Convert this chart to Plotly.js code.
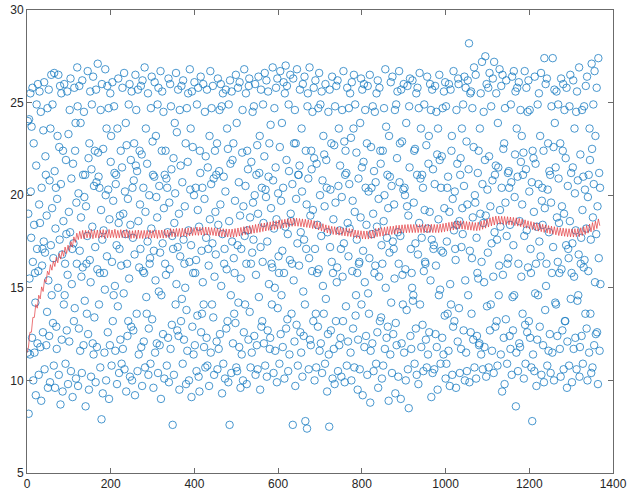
<!DOCTYPE html>
<html>
<head>
<meta charset="utf-8">
<script src="https://cdn.plot.ly/plotly-3.0.1.min.js"></script>
<style>html,body{margin:0;padding:0;background:#fff;}#chart{width:629px;height:495px;}</style>
</head>
<body>
<div id="chart"></div>
<script>
var obsA = [
11.5,24.0,19.0,8.2,24.1,15.5,11.4,25.5,20.2,17.7,
23.7,12.3,25.8,16.4,10.0,22.8,18.4,11.5,15.8,14.2,
9.2,21.6,24.9,17.1,12.0,26.0,15.9,10.3,19.5,25.6,
18.5,11.8,24.5,8.9,20.4,16.2,17.1,12.6,23.5,17.5,
26.1,10.6,16.9,22.1,21.1,11.9,18.9,13.7,24.7,9.6,
15.4,25.7,12.4,20.8,9.9,23.6,17.3,26.5,14.6,19.3,
24.9,13.1,16.6,10.8,26.6,21.3,9.6,18.2,20.4,12.9,
11.7,19.8,23.2,15.0,26.5,10.3,22.6,17.6,25.9,8.7,
20.6,25.5,12.2,16.8,9.4,22.4,18.6,14.1,26.0,14.6,
16.3,10.9,21.9,17.9,12.7,25.6,15.7,9.8,23.3,19.1,
12.1,24.6,18.0,26.3,10.5,20.9,15.2,17.1,9.1,21.7,
17.4,13.2,25.8,13.9,22.4,23.9,10.1,19.6,16.3,26.9,
24.8,9.7,20.1,12.8,25.9,17.0,11.6,23.9,18.8,15.6,
10.4,26.2,16.1,21.1,11.9,24.5,19.9,14.3,21.1,8.6,
19.4,16.3,13.6,17.8,26.7,12.5,22.0,9.5,22.8,16.5,
25.6,15.3,10.2,21.4,24.9,18.3,12.0,26.4,11.4,20.5,
13.4,22.4,17.2,9.9,25.7,20.7,11.8,16.0,27.1,22.3,
21.0,14.1,20.4,15.8,10.7,24.6,19.2,7.9,26.0,17.6,
9.3,22.5,18.1,15.8,11.5,14.9,26.8,20.0,10.0,23.6,
16.7,25.9,12.6,20.3,24.7,9.0,18.7,11.9,25.5,21.8,
23.2,10.8,16.4,26.1,13.2,19.7,14.6,24.8,21.2,15.1,
11.6,20.6,21.1,17.3,9.8,23.6,14.0,26.3,18.5,10.4,
17.1,18.9,12.2,22.4,16.2,10.9,21.5,25.8,11.7,19.0,
14.7,26.6,10.6,20.2,17.9,23.9,9.4,22.7,16.3,12.4,
19.8,13.2,24.9,15.5,26.0,10.2,18.4,21.9,12.9,25.6,
10.0,20.4,17.7,12.7,20.8,22.8,16.8,9.2,26.5,21.6,
24.6,13.6,21.3,10.5,25.7,18.6,11.4,16.1,22.4,19.5,
17.1,25.9,11.8,22.2,9.7,26.2,15.9,20.4,12.1,15.8,
26.9,10.7,19.1,23.6,14.5,13.6,21.7,17.5,25.5,10.3,
12.8,20.0,16.3,16.6,10.9,24.7,18.2,26.4,13.3,22.9,
21.1,9.6,17.0,21.0,26.1,11.5,15.4,23.2,19.9,12.0,
18.8,24.9,10.4,25.8,14.8,20.5,11.9,16.9,26.7,9.0,
14.6,22.4,25.6,17.4,12.5,24.5,19.3,10.1,21.1,16.3,
22.4,15.7,20.9,10.8,20.4,18.0,12.3,26.3,9.9,19.6,
16.0,26.0,11.7,24.8,21.4,13.0,17.8,7.6,17.1,22.0
];
var obsB = [
10.3,18.5,23.9,20.1,14.1,26.6,15.2,23.4,12.7,17.2,
25.7,12.4,19.0,9.5,24.6,16.7,21.6,13.2,25.9,14.4,
20.7,10.9,26.2,17.6,12.2,16.3,19.4,15.0,22.8,9.8,
13.8,24.7,11.6,21.8,25.5,18.1,10.0,16.4,26.8,20.3,
23.6,17.3,9.1,25.6,12.9,22.6,15.8,11.4,20.0,26.1,
11.9,15.8,20.4,16.5,10.5,24.9,13.5,19.2,25.8,10.2,
18.3,9.4,22.4,21.2,26.4,12.6,17.0,13.6,20.4,15.3,
26.0,14.1,11.8,19.8,24.5,10.7,22.1,17.7,12.3,25.7,
10.8,21.5,17.1,16.2,9.7,23.2,18.7,26.7,11.5,20.6,
24.7,14.1,17.4,25.9,13.4,20.9,10.3,15.6,22.4,19.1,
16.8,21.1,12.1,22.8,10.6,26.3,18.4,11.7,21.3,24.6,
12.5,19.5,26.0,15.1,24.8,9.3,17.9,25.5,10.9,21.0,
16.3,17.1,10.1,20.2,25.7,12.8,16.0,23.6,13.2,22.5,
9.9,24.9,18.6,7.6,26.2,21.7,14.6,10.4,25.6,17.5,
21.9,12.0,22.8,16.6,13.6,15.8,19.7,13.1,26.5,10.7,
23.9,10.5,17.3,25.8,14.2,20.7,11.8,26.1,18.9,9.6,
15.5,17.1,11.4,22.3,24.6,10.0,19.4,12.6,26.8,17.8,
14.1,20.5,25.5,16.3,9.8,22.4,18.1,21.4,12.2,25.9,
26.3,13.7,18.8,10.7,16.3,21.8,11.5,16.9,24.5,19.6,
17.6,24.8,12.4,20.0,26.0,10.3,15.7,21.1,11.9,22.7,
10.6,19.0,26.4,14.5,21.2,23.2,9.5,17.2,25.7,12.9,
20.4,13.2,16.4,24.9,18.5,12.0,22.1,26.6,10.8,20.3,
19.9,26.2,10.2,17.5,12.7,25.6,21.0,15.2,22.8,11.7,
12.3,23.8,19.3,16.3,14.1,16.1,26.9,20.8,10.4,18.2,
24.7,15.0,11.6,21.5,25.8,18.7,9.9,26.3,13.9,20.1,
16.7,15.8,10.9,22.6,26.7,12.5,19.7,14.6,23.9,17.0,
11.8,20.4,26.1,15.8,10.1,25.5,18.3,27.0,12.8,21.9,
25.9,13.3,17.9,10.5,24.9,21.3,11.4,16.5,26.5,19.0,
18.6,13.6,16.3,20.6,7.6,26.3,15.4,22.8,12.1,24.6,
9.7,22.8,19.8,13.0,26.8,17.4,10.8,21.1,21.1,16.2,
21.6,25.7,12.6,18.0,11.5,23.6,20.2,10.2,26.0,14.8,
12.4,17.6,26.4,14.1,7.8,22.4,17.1,19.5,7.4,24.8,
25.5,20.9,10.6,16.6,26.9,12.2,18.9,11.9,22.4,21.4,
15.9,24.5,19.2,13.2,25.8,22.0,10.0,17.1,26.2,13.6,
10.7,21.7,15.8,18.4,12.9,24.7,16.0,26.6,11.6,20.0
];
var obsC = [
24.9,12.0,17.8,25.6,10.4,20.8,15.1,23.2,13.6,22.2,
19.4,10.9,26.0,14.4,21.9,20.4,9.4,18.0,12.5,24.5,
11.4,7.5,25.7,17.2,20.3,12.7,22.8,16.4,26.4,10.1,
15.8,18.7,11.7,22.7,9.8,24.8,19.6,13.2,25.9,15.3,
16.1,26.2,10.5,20.5,23.6,11.9,18.1,21.6,12.3,17.1,
10.2,19.9,24.6,15.6,13.2,26.7,17.4,22.9,9.9,21.1,
22.4,14.0,21.2,10.8,25.8,18.5,12.1,16.7,24.7,20.6,
18.2,25.5,11.5,23.1,10.0,26.1,15.9,19.7,12.8,23.6,
26.5,10.7,19.1,24.9,13.5,14.6,22.3,17.6,15.8,9.5,
12.2,20.9,16.3,16.4,10.6,23.9,18.8,26.3,14.1,21.5,
25.7,9.2,17.0,21.8,26.0,11.8,15.3,24.6,20.4,12.4,
18.4,22.8,10.3,25.9,14.7,20.2,13.6,16.6,26.5,8.8,
11.6,22.6,20.4,17.9,12.0,24.8,19.0,10.5,21.3,15.8,
24.5,16.2,20.7,10.9,25.5,18.3,12.6,26.2,9.6,19.8,
15.6,25.8,13.2,22.4,21.7,13.4,17.3,10.1,16.3,22.4,
10.8,18.6,24.7,20.0,11.7,26.8,15.0,23.7,12.3,17.7,
21.1,12.9,19.3,8.9,23.2,16.9,21.0,11.4,26.1,14.2,
20.5,10.4,26.4,17.5,12.5,17.1,19.5,15.5,24.6,9.3,
13.1,24.9,11.9,22.0,25.6,18.0,10.2,16.3,26.7,20.7,
22.8,17.8,9.0,25.7,12.0,22.9,15.7,14.1,20.3,26.0,
11.5,20.4,20.0,16.0,10.0,23.9,13.8,19.4,25.9,10.6,
18.9,8.5,24.8,21.5,26.3,12.4,17.1,11.7,15.8,15.0,
26.2,14.3,14.6,19.6,22.4,10.9,22.5,17.4,12.8,25.5,
10.3,21.1,25.8,16.8,9.8,24.7,18.5,26.6,14.1,20.9,
23.6,11.8,17.7,21.1,13.0,20.4,10.5,15.9,24.9,19.2,
16.4,16.3,12.2,22.7,10.7,26.4,18.2,11.4,21.7,23.2,
12.6,19.1,26.0,15.4,24.6,9.1,17.6,25.7,10.4,21.4,
17.1,17.3,10.6,20.6,25.9,12.5,16.2,24.5,11.8,22.2,
9.5,23.6,18.7,14.6,26.5,21.9,14.9,10.9,20.4,17.0,
22.1,12.3,24.7,16.9,11.4,25.6,19.3,13.5,26.1,10.1,
24.8,10.9,17.5,20.4,13.6,21.0,11.6,26.0,19.1,9.7,
15.2,25.7,14.1,22.4,23.2,10.3,19.8,12.9,26.7,18.1,
13.2,20.2,17.1,16.5,9.6,24.6,18.4,21.7,12.1,26.3,
26.0,13.9,18.6,10.4,21.1,22.0,11.7,17.2,23.6,19.3,
17.9,24.9,12.7,20.5,26.4,10.0,15.4,25.8,11.5,22.9
];
var obsD = [
10.5,19.5,26.2,14.6,21.4,28.2,9.9,17.0,25.5,12.6,
25.6,13.6,16.6,24.7,18.8,12.2,22.6,26.9,10.7,20.0,
19.6,26.5,10.1,17.7,12.4,15.8,21.2,15.5,22.4,11.9,
12.0,23.6,19.0,25.5,11.4,16.4,27.2,20.6,10.6,18.5,
24.5,15.3,11.8,21.9,27.5,18.9,10.2,26.0,14.0,20.3,
16.9,25.8,10.7,22.1,26.6,12.7,19.4,14.1,24.8,17.4,
11.6,20.8,26.3,15.6,10.4,27.2,18.0,21.1,12.9,21.6,
25.5,13.2,17.6,10.8,23.9,21.5,14.6,16.2,26.8,19.2,
18.3,11.4,25.9,20.4,9.4,26.5,15.7,22.5,12.3,22.8,
9.8,24.7,19.6,13.3,26.2,17.8,10.9,16.3,21.2,16.6,
21.3,20.4,12.4,18.4,11.7,24.9,20.7,10.3,26.4,14.5,
12.7,17.3,26.7,14.6,19.9,22.2,25.6,8.6,11.5,23.6,
25.8,21.0,10.5,16.3,26.1,12.0,18.6,11.8,24.6,21.8,
15.6,23.2,19.5,13.6,21.1,22.3,10.1,17.8,26.7,13.0,
10.9,21.4,25.8,18.1,12.6,24.5,16.1,26.2,13.2,20.2,
24.6,12.3,17.1,15.8,10.7,20.7,7.8,22.4,11.4,22.0,
19.1,10.5,26.4,14.7,21.7,16.3,9.7,18.3,12.2,24.9,
14.6,20.6,25.5,17.5,12.9,23.2,16.7,26.6,10.3,19.7,
20.4,18.4,11.9,22.4,9.9,27.4,19.3,13.8,26.0,15.1,
16.3,26.3,10.8,20.3,22.8,11.6,18.0,21.3,12.5,21.1,
10.4,19.6,24.8,15.8,11.5,27.4,17.2,22.6,10.0,25.7,
23.9,14.2,21.5,14.1,25.6,18.8,12.4,16.4,24.9,20.9,
18.5,15.8,11.7,22.8,10.2,26.3,16.0,19.4,12.7,22.4,
26.0,10.6,19.0,24.6,13.2,13.2,22.0,17.3,25.8,9.6,
12.1,20.5,17.1,16.6,10.8,24.8,18.6,26.5,14.4,21.2,
15.8,9.9,17.4,21.5,26.2,11.7,15.6,23.6,20.1,12.3,
18.1,24.5,10.6,25.6,14.3,20.8,14.6,16.8,26.9,10.2,
11.8,22.2,16.3,17.7,12.4,24.6,19.2,10.9,21.0,16.1,
24.8,16.5,20.3,13.6,25.9,18.2,12.8,26.4,10.0,19.9,
15.9,21.1,11.5,23.6,21.9,13.6,17.6,10.4,27.1,22.5,
10.7,18.8,24.9,20.6,11.9,26.7,15.3,23.2,12.5,17.9,
25.8,12.6,19.4,9.8,27.4,16.6,21.2,11.6,20.4,15.2
];

// Fitted curve, vertices every half week (peaks and troughs)
var fitA = [
11.5,11.8,12.6,12.6,13.4,13.4,14.1,13.9,14.6,14.4,15.05,14.8,15.45,15.3,
15.9,15.7,16.25,15.95,16.45,16.15,16.65,16.35,16.85,16.55,17.0,16.7,17.2,16.85,
17.3,17.0,17.5,17.2,17.75,17.45,17.95,17.6,18.05,17.65,18.1,17.65,18.1,17.7,
18.1,17.7,18.15,17.65,18.1,17.7,18.12,17.68,18.1,17.72,18.14,17.66,18.1,17.7,
18.15,17.7,18.12,17.72,18.16,17.68,18.1,17.7,18.14,17.71,18.12,17.7,18.15,17.68,
18.1,17.66,18.08,17.68,18.1,17.65,18.12,17.67,18.09,17.66,18.1,17.68,18.1,17.66,
18.12,17.68,18.1,17.7,18.13,17.66,18.11,17.7,18.12,17.68,18.14,17.7,18.12,17.71,
18.2,17.76,18.18,17.75,18.21,17.77,18.2,17.74,18.22,17.78,18.2,17.76,18.24,17.8,
18.26,17.82,18.25,17.84,18.28,17.83,18.27,17.85,18.26,17.82,18.28,17.85,18.27,17.84,
18.25,17.83,18.24,17.8,18.22,17.79,18.2,17.76,18.19,17.75,18.18,17.74,18.17,17.73
];
var fitB = [
18.17,17.73,18.2,17.76,18.23,17.8,18.26,17.83,18.3,17.87,18.33,17.9,18.36,17.92,
18.38,17.95,18.42,17.98,18.45,18.0,18.48,18.04,18.5,18.07,18.53,18.1,18.56,18.12,
18.59,18.15,18.62,18.18,18.65,18.2,18.68,18.23,18.7,18.26,18.73,18.3,18.75,18.32,
18.77,18.33,18.76,18.32,18.74,18.3,18.72,18.28,18.7,18.26,18.68,18.24,18.66,18.2,
18.62,18.18,18.58,18.12,18.52,18.07,18.46,18.02,18.4,17.96,18.36,17.92,18.32,17.88,
18.3,17.86,18.28,17.84,18.26,17.82,18.24,17.8,18.22,17.78,18.2,17.76,18.18,17.73,
18.12,17.68,18.1,17.66,18.08,17.64,18.07,17.63,18.07,17.63,18.09,17.66,18.12,17.68,
18.2,17.76,18.23,17.78,18.25,17.8,18.27,17.83,18.3,17.86,18.32,17.88,18.33,17.9,
18.37,17.93,18.38,17.94,18.4,17.96,18.41,17.97,18.42,17.98,18.42,17.98,18.42,17.98
];
var fitC = [
18.42,17.98,18.42,17.98,18.43,17.97,18.42,17.98,18.42,17.98,18.43,17.98,18.42,17.98,
18.42,17.98,18.44,18.0,18.47,18.03,18.5,18.06,18.53,18.09,18.56,18.12,18.59,18.15,
18.62,18.18,18.62,18.17,18.6,18.15,18.58,18.13,18.56,18.11,18.54,18.09,18.52,18.08,
18.54,18.1,18.6,18.16,18.66,18.22,18.72,18.28,18.78,18.34,18.83,18.39,18.87,18.43,
18.87,18.43,18.86,18.42,18.85,18.41,18.84,18.4,18.82,18.38,18.8,18.36,18.78,18.33,
18.75,18.3,18.71,18.26,18.67,18.22,18.62,18.18,18.58,18.14,18.54,18.1,18.5,18.06,
18.47,18.03,18.43,17.99,18.4,17.96,18.36,17.92,18.33,17.89,18.3,17.86,18.26,17.82,
18.24,17.8,18.22,17.78,18.2,17.76,18.19,17.75,18.18,17.74,18.19,17.76,18.2,17.76,
18.24,17.82,18.3,17.88,18.37,17.95,18.44,18.02,18.52,18.1,18.6,18.2,18.72,18.35
];

var xTicks = [0, 200, 400, 600, 800, 1000, 1200, 1400];
var yTicks = [5, 10, 15, 20, 25, 30];

var obs = obsA.concat(obsB, obsC, obsD);
var obsX = obs.map(function (v, i) { return i + 1; });
var fit = fitA.concat(fitB, fitC);
var fitX = fit.map(function (v, i) { return i * 3.5; });

var traces = [
  {
    x: obsX, y: obs, type: 'scatter', mode: 'markers',
    marker: { symbol: 'circle-open', size: 7.5, color: '#1a7cc1', line: { width: 0.8, color: '#1a7cc1' } },
    hoverinfo: 'none'
  },
  {
    x: fitX, y: fit, type: 'scatter', mode: 'lines',
    line: { color: '#e23a3e', width: 0.7 },
    hoverinfo: 'none'
  }
];

var axisCommon = {
  showgrid: false, zeroline: false, showline: true, linecolor: '#6b6b6b', linewidth: 1,
  mirror: 'ticks', ticks: 'inside', ticklen: 5, tickcolor: '#6b6b6b', tickwidth: 1,
  tickfont: { family: 'Liberation Sans, Arial, sans-serif', size: 12, color: '#262626' }
};

var layout = {
  width: 629, height: 495,
  margin: { l: 27, r: 16, t: 10, b: 22, pad: 0 },
  paper_bgcolor: '#ffffff', plot_bgcolor: '#ffffff',
  showlegend: false,
  xaxis: Object.assign({}, axisCommon, { range: [0, 1400], tickmode: 'array', tickvals: xTicks, ticktext: xTicks.map(String) }),
  yaxis: Object.assign({}, axisCommon, { range: [5, 30], tickmode: 'array', tickvals: yTicks, ticktext: yTicks.map(String) })
};

Plotly.newPlot('chart', traces, layout, { staticPlot: true, displayModeBar: false });
</script>
</body>
</html>
